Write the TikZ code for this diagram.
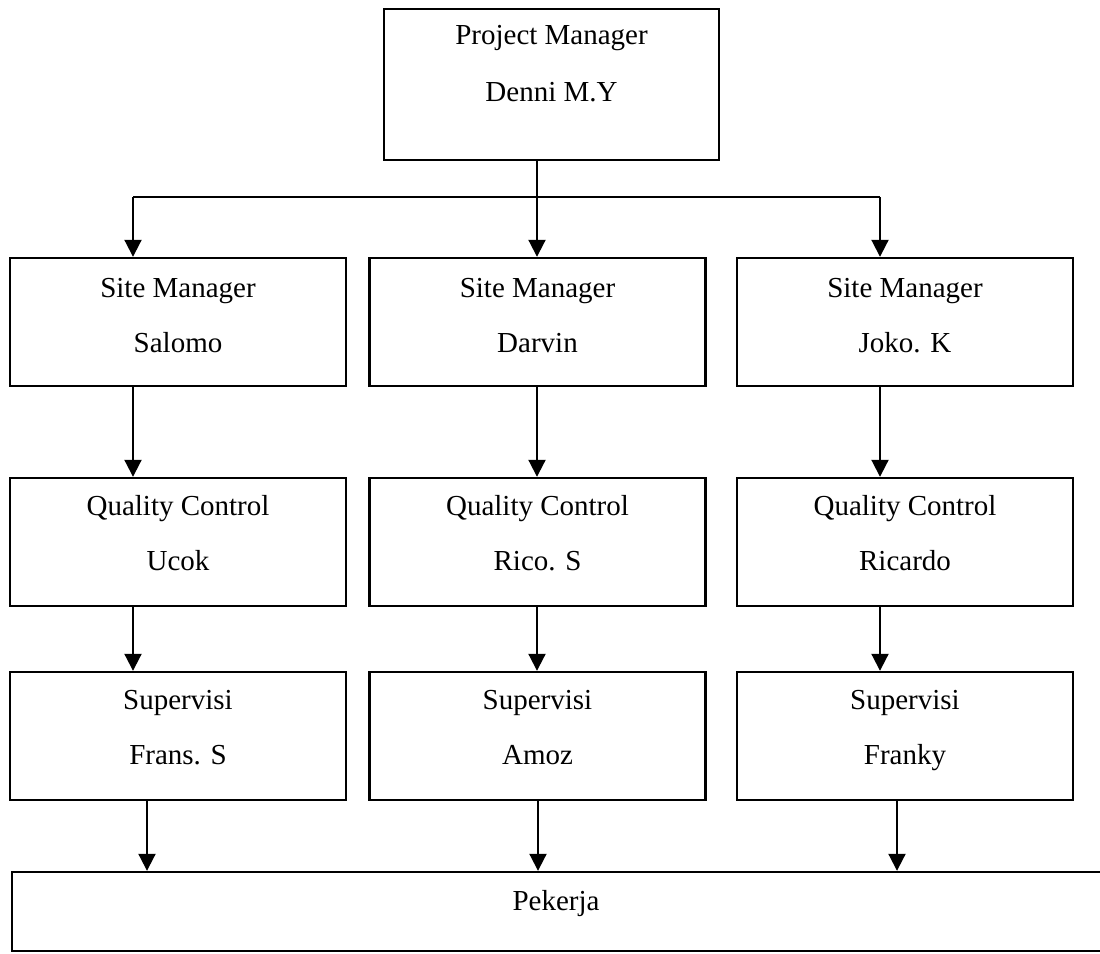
\documentclass[tikz,border=0pt]{standalone}
\usepackage{fontspec}
\setmainfont{Liberation Serif}
\usetikzlibrary{arrows.meta}
\begin{document}
\begin{tikzpicture}[x=1pt,y=-1pt,
  box/.style={draw, line width=2.4pt, rectangle, inner sep=0pt},
  rowbox/.style={box, minimum width=336pt, minimum height=128pt},
  lbl/.style={anchor=base, inner sep=0pt, font=\fontsize{29}{34}\selectfont},
  conn/.style={line width=2pt},
  arr/.style={line width=2pt, -{Triangle[width=17pt,length=17pt]}}]
\useasboundingbox (0,0) rectangle (1100,953);
\fill[white] (0,0) rectangle (1100,953);

% top box
\node[box, minimum width=335pt, minimum height=151pt] (pm) at (551.5,84.5) {};
\node[lbl] (pmt1) at (551.5,44) {Project Manager};
\node[lbl] (pmt2) at (551.5,101) {Denni M.Y};

% row 1
\node[rowbox] (sm1) at (178,322) {};
\node[rowbox] (sm2) at (537.5,322) {};
\node[rowbox] (sm3) at (905,322) {};
\node[lbl] (sm1a) at (178,297) {Site Manager};
\node[lbl] (sm1b) at (178,352) {Salomo};
\node[lbl] (sm2a) at (537.5,297) {Site Manager};
\node[lbl] (sm2b) at (537.5,352) {Darvin};
\node[lbl] (sm3a) at (905,297) {Site Manager};
\node[lbl] (sm3b) at (905,352) {Joko. K};

% row 2
\node[rowbox] (qc1) at (178,542) {};
\node[rowbox] (qc2) at (537.5,542) {};
\node[rowbox] (qc3) at (905,542) {};
\node[lbl] (qc1a) at (178,515) {Quality Control};
\node[lbl] (qc1b) at (178,570) {Ucok};
\node[lbl] (qc2a) at (537.5,515) {Quality Control};
\node[lbl] (qc2b) at (537.5,570) {Rico. S};
\node[lbl] (qc3a) at (905,515) {Quality Control};
\node[lbl] (qc3b) at (905,570) {Ricardo};

% row 3
\node[rowbox] (sv1) at (178,736) {};
\node[rowbox] (sv2) at (537.5,736) {};
\node[rowbox] (sv3) at (905,736) {};
\node[lbl] (sv1a) at (178,709) {Supervisi};
\node[lbl] (sv1b) at (178,764) {Frans. S};
\node[lbl] (sv2a) at (537.5,709) {Supervisi};
\node[lbl] (sv2b) at (537.5,764) {Amoz};
\node[lbl] (sv3a) at (905,709) {Supervisi};
\node[lbl] (sv3b) at (905,764) {Franky};

% bottom box
\node[box, minimum width=1098pt, minimum height=79pt] (pk) at (561,911.5) {};
\node[lbl] (pkt) at (556,910) {Pekerja};

% connectors
\coordinate (j) at (537,197);
\coordinate (c1) at (133,197);
\coordinate (c3) at (880,197);
\coordinate (d1) at (147,0);
\coordinate (d2) at (538,0);
\coordinate (d3) at (897,0);
\draw[conn] (pm.south -| j) -- (j);
\draw[conn] (c1) -- (c3);
\draw[arr] (j) -- (j |- sm2.north);
\draw[arr] (c1) -- (c1 |- sm1.north);
\draw[arr] (c3) -- (c3 |- sm3.north);

\draw[arr] (sm1.south -| c1) -- (qc1.north -| c1);
\draw[arr] (sm2.south -| j) -- (qc2.north -| j);
\draw[arr] (sm3.south -| c3) -- (qc3.north -| c3);

\draw[arr] (qc1.south -| c1) -- (sv1.north -| c1);
\draw[arr] (qc2.south -| j) -- (sv2.north -| j);
\draw[arr] (qc3.south -| c3) -- (sv3.north -| c3);

\draw[arr] (sv1.south -| d1) -- (pk.north -| d1);
\draw[arr] (sv2.south -| d2) -- (pk.north -| d2);
\draw[arr] (sv3.south -| d3) -- (pk.north -| d3);
\end{tikzpicture}
\end{document}
